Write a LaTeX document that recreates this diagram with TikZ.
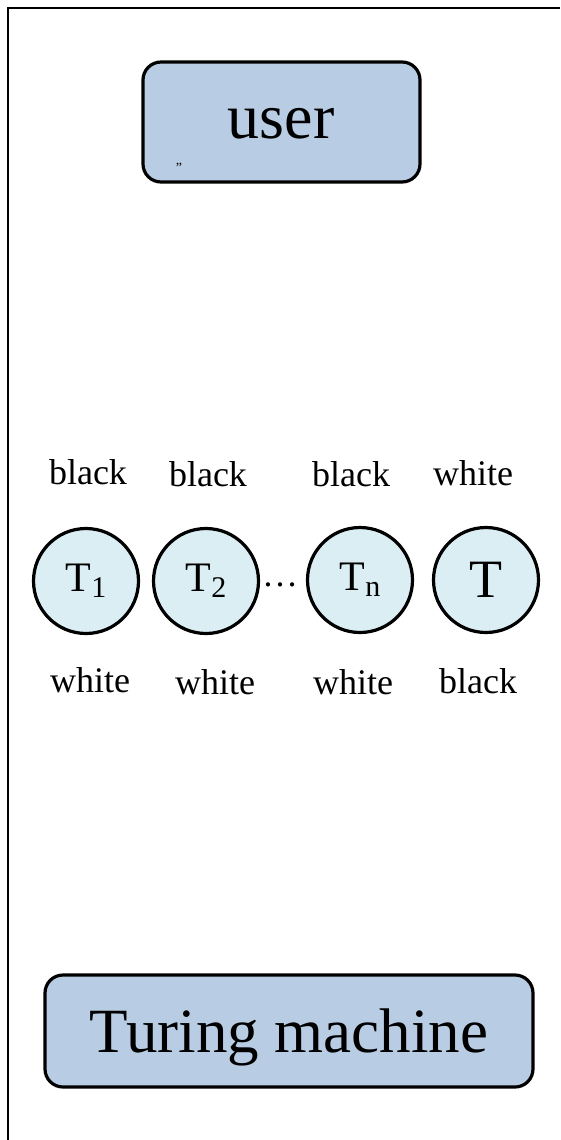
\documentclass[tikz,border=0pt]{standalone}
\usepackage{fontspec}
\setmainfont{Liberation Serif}
\definecolor{boxblue}{HTML}{B8CCE4}
\definecolor{circblue}{HTML}{DAEEF3}
\tikzset{
  px/.style={x=1pt,y=-1pt},
  roundbox/.style={draw=black, line width=3.2pt, rounded corners=18pt, fill=boxblue, inner sep=0pt},
  tcirc/.style={circle, draw=black, line width=3.2pt, fill=circblue, minimum size=105pt, inner sep=0pt},
  lbl/.style={anchor=base, inner sep=0pt, font=\fontsize{36}{40}\selectfont},
  frame/.style={draw=black, line width=1.8pt}
}
\begin{document}
\begin{tikzpicture}[px]
\useasboundingbox (0,0) rectangle (560,1140);
% frame
\coordinate (fl) at (8,1140);
\coordinate (fc) at (8,8);
\coordinate (fr) at (560,8);
\draw[frame] (fl) -- (fc) -- (fr);
% user box
\node[roundbox, minimum width=277pt, minimum height=120pt] (user) at (281.5,122) {};
\node[anchor=base, inner sep=0pt, font=\fontsize{64}{70}\selectfont] (usertxt) at (281,138) {user};
\node[anchor=base, inner sep=0pt, font=\fontsize{14}{14}\selectfont] (mark) at (179,172) {''};
% circles
\node[tcirc] (t1) at (86,581) {\fontsize{42}{46}\selectfont T\raisebox{-6pt}{\fontsize{30}{32}\selectfont 1}};
\node[tcirc] (t2) at (206,581) {\fontsize{42}{46}\selectfont T\raisebox{-6pt}{\fontsize{30}{32}\selectfont 2}};
\node[tcirc] (tn) at (360,580) {\fontsize{42}{46}\selectfont T\raisebox{-6pt}{\fontsize{30}{32}\selectfont n}};
\node[tcirc] (t) at (486,580) {\fontsize{54}{58}\selectfont T};
\node[anchor=base, inner sep=0pt, font=\fontsize{36}{40}\selectfont] (dots) at (280,586) {\char"2026};
% labels above
\node[lbl] (a1) at (88,484) {black};
\node[lbl] (a2) at (208,486) {black};
\node[lbl] (a3) at (351,486) {black};
\node[lbl] (a4) at (473,485) {white};
% labels below
\node[lbl] (b1) at (90,692) {white};
\node[lbl] (b2) at (215,694) {white};
\node[lbl] (b3) at (353,694) {white};
\node[lbl] (b4) at (478,693) {black};
% Turing machine box
\node[roundbox, minimum width=488pt, minimum height=112pt] (tm) at (289,1031) {};
\node[anchor=base, inner sep=0pt, font=\fontsize{63}{68}\selectfont] (tmtxt) at (289,1052) {Turing machine};
\end{tikzpicture}
\end{document}
